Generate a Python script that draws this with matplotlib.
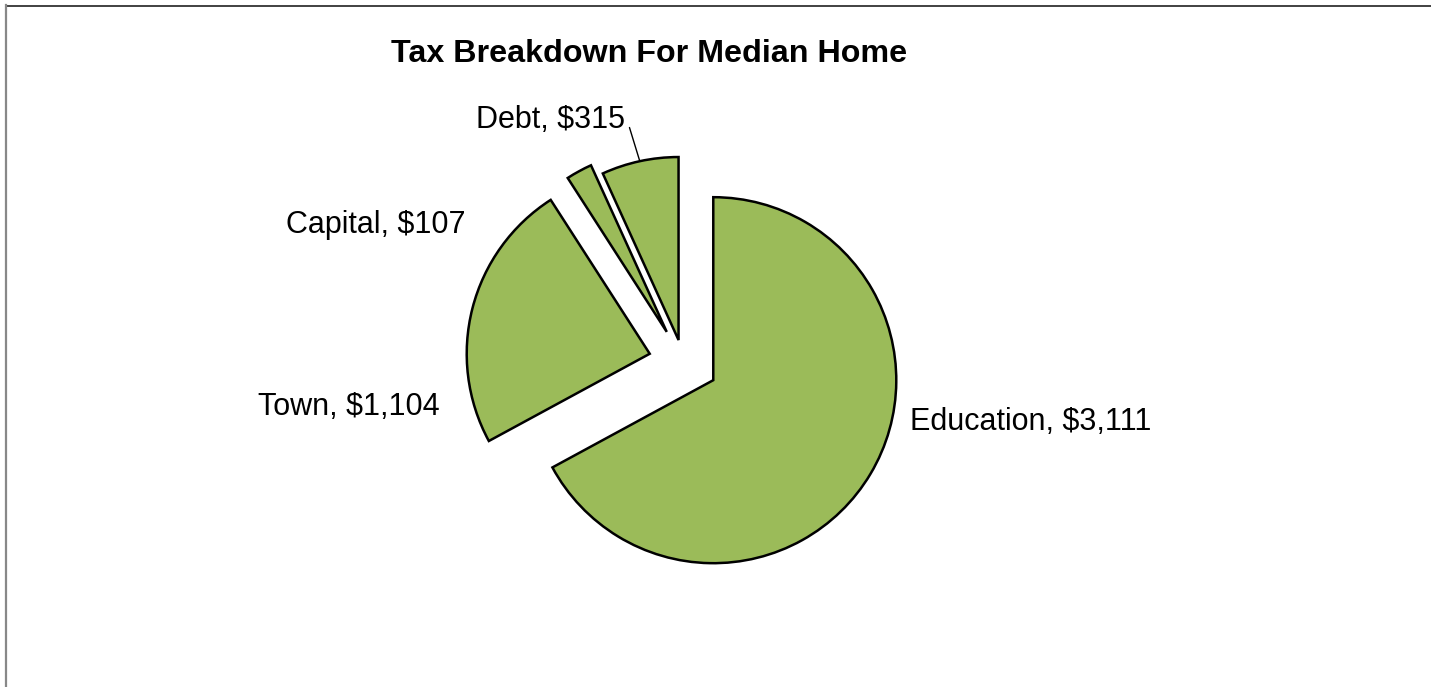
import numpy as np
import matplotlib
matplotlib.use('Agg')
import matplotlib.pyplot as plt
from matplotlib.lines import Line2D

plt.rcParams['font.family'] = ['Liberation Sans', 'DejaVu Sans']

# tax share per category for the median home
categories = ['Education', 'Town', 'Capital', 'Debt']
amounts = [3111, 1104, 107, 315]

# layout (pixels, measured from the top-left of the figure)
W, H = 1431, 687
PIE_CX, PIE_CY, PIE_R = 683.4, 362.4, 183.0
explode = [0.19, 0.19, 0.19, 0.125]
label_pos = [(910, 422, 'left'), (440, 407, 'right'), (465, 225, 'right'), (625, 120, 'right')]
pie_green = '#9BBB59'

fig = plt.figure(figsize=(W / 100, H / 100), dpi=100)
ax = fig.add_axes([0, 0, 1, 1])

wedges, _ = ax.pie(amounts, explode=explode, startangle=90, counterclock=False,
                   colors=[pie_green] * len(amounts),
                   wedgeprops=dict(edgecolor='black', linewidth=1.8, joinstyle='miter'))

# unit radius maps to PIE_R pixels
ax.set_aspect('equal')
ax.set_xlim(-PIE_CX / PIE_R, (W - PIE_CX) / PIE_R)
ax.set_ylim(-(H - PIE_CY) / PIE_R, PIE_CY / PIE_R)
ax.axis('off')

for w, name, val, (lx, ly, ha) in zip(wedges, categories, amounts, label_pos):
    theta = np.deg2rad((w.theta1 + w.theta2) / 2)
    arc_pt = (w.center[0] + w.r * np.cos(theta), w.center[1] + w.r * np.sin(theta))
    text = '%s, $%s' % (name, format(val, ','))
    if name == 'Debt':
        ax.annotate(text, xy=arc_pt, xycoords='data',
                    xytext=(lx / W, 1 - ly / H), textcoords='figure fraction',
                    ha=ha, va='center', fontsize=22,
                    arrowprops=dict(arrowstyle='-', color='black', lw=1.0,
                                    shrinkA=0, shrinkB=0, relpos=(1.03, 0.25)))
    else:
        fig.text(lx / W, 1 - ly / H, text, ha=ha, va='center', fontsize=22)

fig.text(649 / W, 1 - 54 / H, 'Tax Breakdown For Median Home',
         ha='center', va='center', fontsize=23.2, fontweight='bold')

# chart area border, partly cut off at the right and bottom
fig.add_artist(Line2D([6 / W, 1], [1 - 5.5 / H] * 2, transform=fig.transFigure,
                      color='#333333', lw=1.3))
fig.add_artist(Line2D([6.5 / W] * 2, [1 - 5 / H, 0], transform=fig.transFigure,
                      color='#888888', lw=1.6))

fig.savefig('out.png', dpi=100)
